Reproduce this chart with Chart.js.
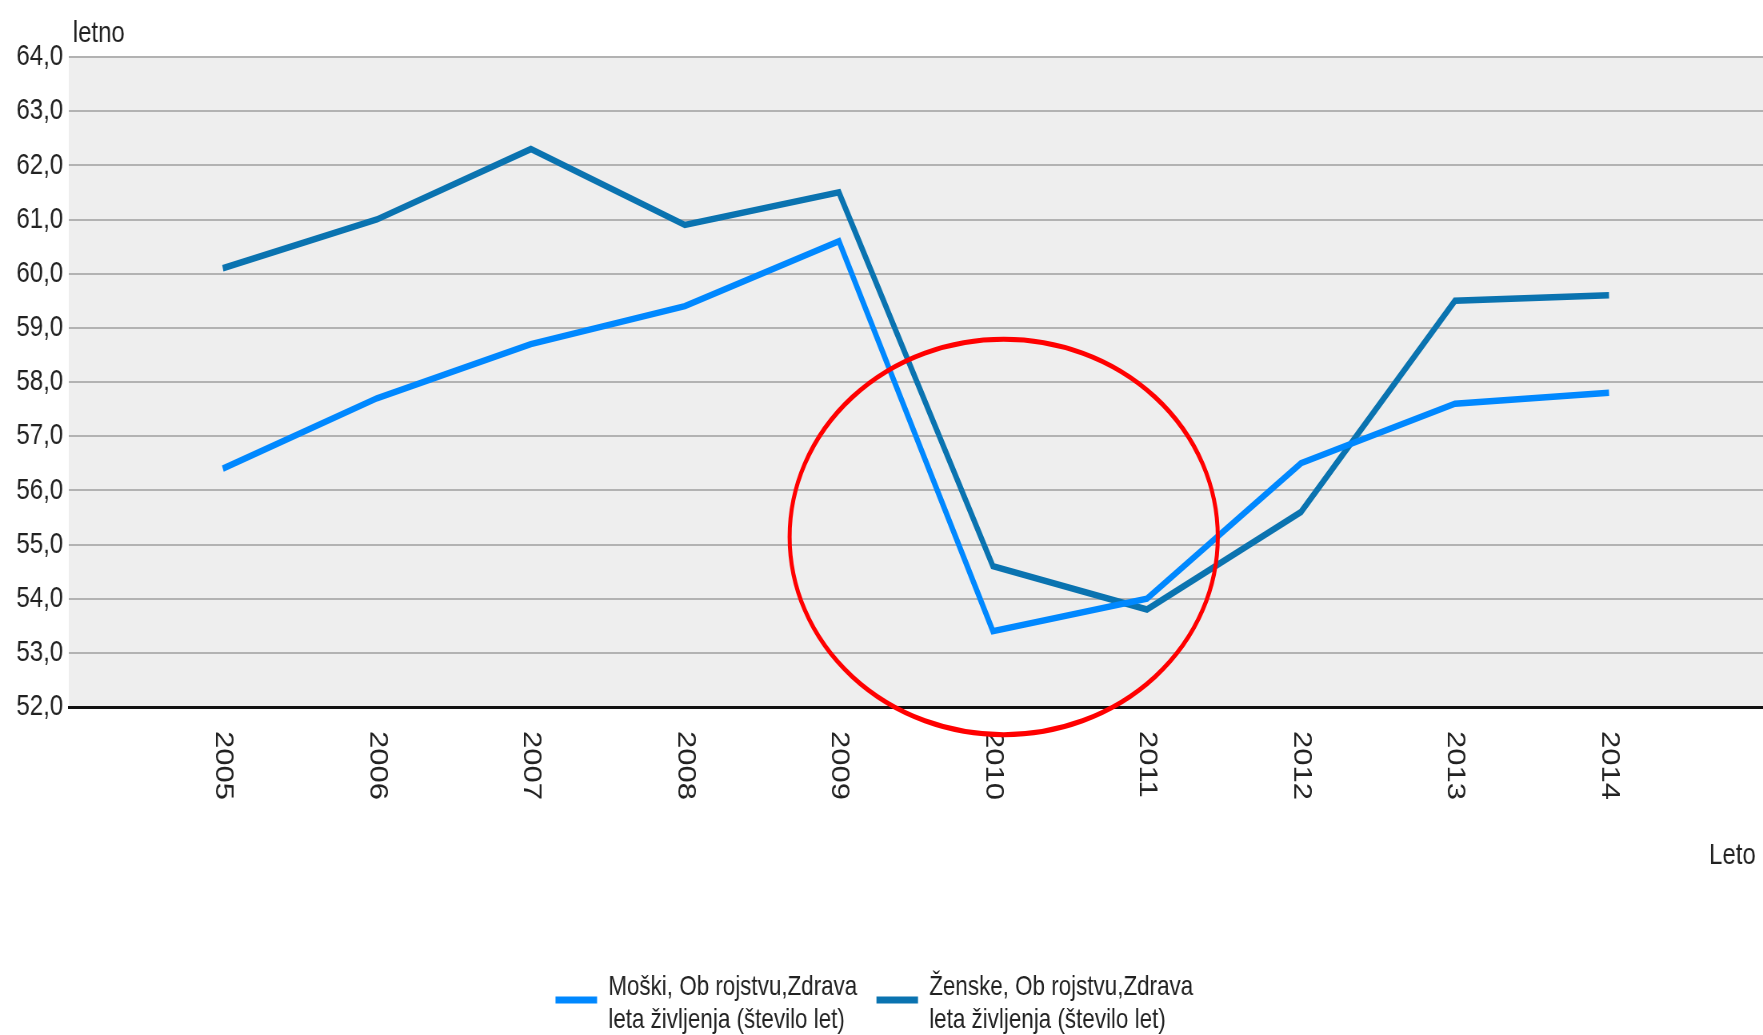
<!DOCTYPE html>
<html>
<head>
<meta charset="utf-8">
<script src="https://cdn.jsdelivr.net/npm/chart.js@4.4.1/dist/chart.umd.min.js"></script>
<style>
  html, body { margin: 0; padding: 0; background: #fff; overflow: hidden; }
  /* the source chart is horizontally condensed, so draw wide and squeeze */
  canvas { display: block; transform: scaleX(0.79991); transform-origin: 0 0; }
</style>
</head>
<body>
<canvas id="chart" width="2204" height="1035"></canvas>
<script>
const years = [2005, 2006, 2007, 2008, 2009, 2010, 2011, 2012, 2013, 2014]
const moski = [56.4, 57.7, 58.7, 59.4, 60.6, 53.4, 54.0, 56.5, 57.6, 57.8]
const zenske = [60.1, 61.0, 62.3, 60.9, 61.5, 54.6, 53.8, 55.6, 59.5, 59.6]
const seriesLabels = [
  ['Moški, Ob rojstvu,Zdrava', 'leta življenja (število let)'],
  ['Ženske, Ob rojstvu,Zdrava', 'leta življenja (število let)']
]
const yTitle = 'letno'
const xTitle = 'Leto'
// highlighted region (data units): centre year/value, radius in years/values
const highlight = { x: 2010.07, y: 55.14, rx: 1.39, ry: 3.65 }

const font = '"Liberation Sans", Arial, sans-serif'
const textColor = '#222'

const decor = {
  id: 'decor',
  beforeDraw(chart) {
    const { ctx, chartArea: a } = chart
    ctx.save()
    ctx.fillStyle = '#eeeeee'
    ctx.fillRect(a.left, a.top, a.right - a.left, a.bottom - a.top)
    ctx.restore()
  },
  afterDraw(chart) {
    const { ctx, chartArea: a, scales: { x, y } } = chart

    // rotated year labels (top to bottom)
    ctx.save()
    ctx.fillStyle = textColor
    ctx.font = '31px ' + font
    ctx.textAlign = 'left'
    ctx.textBaseline = 'middle'
    years.forEach(yr => {
      ctx.save()
      ctx.translate(x.getPixelForValue(yr), a.bottom + 24)
      ctx.rotate(Math.PI / 2)
      ctx.fillText(String(yr), 0, 0)
      ctx.restore()
    })
    ctx.restore()

    // axis captions
    ctx.save()
    ctx.fillStyle = textColor
    ctx.font = '30px ' + font
    ctx.textBaseline = 'middle'
    ctx.textAlign = 'left'
    ctx.fillText(yTitle, a.left + 5, a.top - 23)
    ctx.textAlign = 'right'
    ctx.fillText(xTitle, chart.width - 9, 856)
    ctx.restore()

    // legend
    ctx.save()
    ctx.font = '28px ' + font
    ctx.textBaseline = 'middle'
    ctx.textAlign = 'left'
    const sw = 52, gap = 14, itemGap = 24
    const widths = seriesLabels.map(l => Math.max(...l.map(t => ctx.measureText(t).width)))
    const total = widths.reduce((s, w) => s + sw + gap + w, 0) + itemGap * (widths.length - 1)
    let lx = (chart.width - total) / 2 - 9
    chart.data.datasets.forEach((ds, i) => {
      ctx.strokeStyle = ds.borderColor
      ctx.lineWidth = 7
      ctx.beginPath()
      ctx.moveTo(lx, 1000)
      ctx.lineTo(lx + sw, 1000)
      ctx.stroke()
      ctx.fillStyle = textColor
      seriesLabels[i].forEach((t, j) => ctx.fillText(t, lx + sw + gap, 987 + j * 33))
      lx += sw + gap + widths[i] + itemGap
    })
    ctx.restore()

    // red ellipse
    ctx.save()
    const cx = x.getPixelForValue(highlight.x)
    const cy = y.getPixelForValue(highlight.y)
    const rx = Math.abs(x.getPixelForValue(highlight.x + highlight.rx) - cx)
    const ry = Math.abs(y.getPixelForValue(highlight.y + highlight.ry) - cy)
    ctx.strokeStyle = '#ff0000'
    ctx.lineWidth = 5
    ctx.beginPath()
    ctx.ellipse(cx, cy, rx, ry, 0, 0, Math.PI * 2)
    ctx.stroke()
    ctx.restore()
  }
}

new Chart(document.getElementById('chart'), {
  type: 'line',
  data: {
    datasets: [
      {
        label: seriesLabels[0].join(' '),
        data: years.map((yr, i) => ({ x: yr, y: moski[i] })),
        borderColor: 'rgb(0, 136, 255)',
        borderWidth: 6.5,
        pointRadius: 0,
        borderJoinStyle: 'miter',
        tension: 0
      },
      {
        label: seriesLabels[1].join(' '),
        data: years.map((yr, i) => ({ x: yr, y: zenske[i] })),
        borderColor: 'rgb(10, 115, 176)',
        borderWidth: 6.5,
        pointRadius: 0,
        borderJoinStyle: 'miter',
        tension: 0
      }
    ]
  },
  options: {
    responsive: false,
    animation: false,
    layout: { padding: { top: 57, left: 0, right: 0, bottom: 164 } },
    plugins: {
      legend: { display: false },
      tooltip: { enabled: false }
    },
    scales: {
      x: {
        type: 'linear',
        min: 2004,
        max: 2015,
        grid: { display: false },
        border: { display: true, color: '#111', width: 3 },
        ticks: { display: false, stepSize: 1 },
        afterFit: s => { s.height = 164 }
      },
      y: {
        min: 52,
        max: 64,
        grid: { color: '#b2b2b2', lineWidth: 2, drawTicks: false },
        border: { display: false },
        ticks: {
          stepSize: 1,
          padding: 7,
          color: textColor,
          font: { size: 30, family: font },
          callback: v => v.toFixed(1).replace('.', ',')
        },
        afterFit: s => { s.width = 86 }
      }
    }
  },
  plugins: [decor]
})
</script>
</body>
</html>
